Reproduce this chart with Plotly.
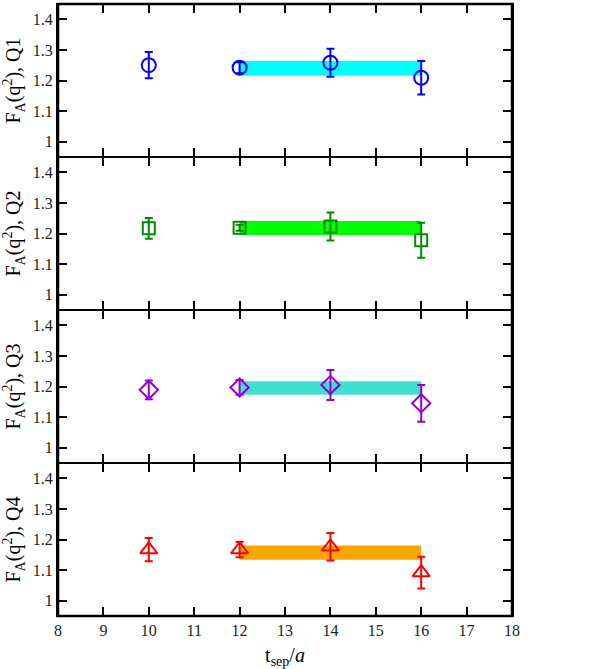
import plotly.graph_objects as go
from plotly.subplots import make_subplots

# ---- data ----
tsep = [10, 12, 14, 16]
panels = ["Q1", "Q2", "Q3", "Q4"]
q1_val = [1.250, 1.242, 1.258, 1.209]
q1_err = [0.043, 0.018, 0.046, 0.055]
q2_val = [1.217, 1.219, 1.223, 1.178]
q2_err = [0.034, 0.010, 0.046, 0.057]
q3_val = [1.189, 1.197, 1.205, 1.145]
q3_err = [0.031, 0.024, 0.049, 0.060]
q4_val = [1.167, 1.167, 1.176, 1.092]
q4_err = [0.038, 0.025, 0.045, 0.052]
band_x = [12, 16]
band_center = [1.240, 1.218, 1.195, 1.157]
band_err = [0.024, 0.023, 0.022, 0.023]

values = [q1_val, q2_val, q3_val, q4_val]
errors = [q1_err, q2_err, q3_err, q4_err]
marker_colors = ["#0000FF", "#008B00", "#9400D3", "#FF0000"]
marker_symbols = ["circle-open", "square-open", "diamond-open", "triangle-up-open"]
marker_sizes = [14, 12, 14, 15]
band_colors = ["#00FFFF", "#00FF00", "#40E0D0", "#FFA500"]

fig = make_subplots(rows=4, cols=1, shared_xaxes=True, vertical_spacing=0)

for i in range(4):
    r = i + 1
    lo = band_center[i] - band_err[i]
    hi = band_center[i] + band_err[i]
    fig.add_trace(go.Scatter(
        x=[band_x[0], band_x[1], band_x[1], band_x[0], band_x[0]],
        y=[lo, lo, hi, hi, lo],
        fill="toself", fillcolor=band_colors[i], mode="lines",
        line=dict(width=0, color=band_colors[i]), hoverinfo="skip",
        showlegend=False), row=r, col=1)
    fig.add_trace(go.Scatter(
        x=tsep, y=values[i], mode="markers",
        marker=dict(symbol=marker_symbols[i], size=marker_sizes[i],
                    color=marker_colors[i], line=dict(width=2, color=marker_colors[i])),
        error_y=dict(type="data", array=errors[i], color=marker_colors[i],
                     thickness=2, width=4),
        showlegend=False), row=r, col=1)

font_family = "Times New Roman, Liberation Serif, serif"
for i in range(4):
    r = i + 1
    fig.update_yaxes(
        range=[0.95, 1.45], tickvals=[1.0, 1.1, 1.2, 1.3, 1.4],
        ticktext=["1", "1.1", "1.2", "1.3", "1.4"],
        ticks="inside", ticklen=9, tickwidth=2, tickcolor="black",
        showline=True, linewidth=2, linecolor="black", mirror="ticks",
        showgrid=False, zeroline=False, automargin=False,
        tickfont=dict(family=font_family, size=16, color="#222"),
        title=dict(text="F<sub>A</sub>(q<sup>2</sup>), " + panels[i],
                   font=dict(family=font_family, size=20, color="black")),
        row=r, col=1)
    fig.update_xaxes(
        range=[8, 18], dtick=1, tick0=8,
        ticks="inside", ticklen=9, tickwidth=2, tickcolor="black",
        showline=True, linewidth=1, linecolor="black", mirror="ticks",
        showgrid=False, zeroline=False, automargin=False,
        tickfont=dict(family=font_family, size=16, color="#222"),
        showticklabels=(r == 4),
        row=r, col=1)

fig.update_xaxes(title=dict(text="t<sub>sep</sub>/<i>a</i>",
                            font=dict(family=font_family, size=20, color="black")),
                 row=4, col=1)

fig.add_shape(type="rect", xref="paper", yref="paper", x0=0, x1=1, y0=0, y1=1,
              line=dict(color="black", width=2.5), fillcolor="rgba(0,0,0,0)", layer="above")

fig.update_layout(
    width=609, height=669,
    margin=dict(l=58, r=97, t=4, b=53),
    plot_bgcolor="white", paper_bgcolor="white",
    showlegend=False,
)

fig.write_html("out.html", config={"displayModeBar": False},
               post_script="document.body.style.margin='0';document.body.style.padding='0';")
